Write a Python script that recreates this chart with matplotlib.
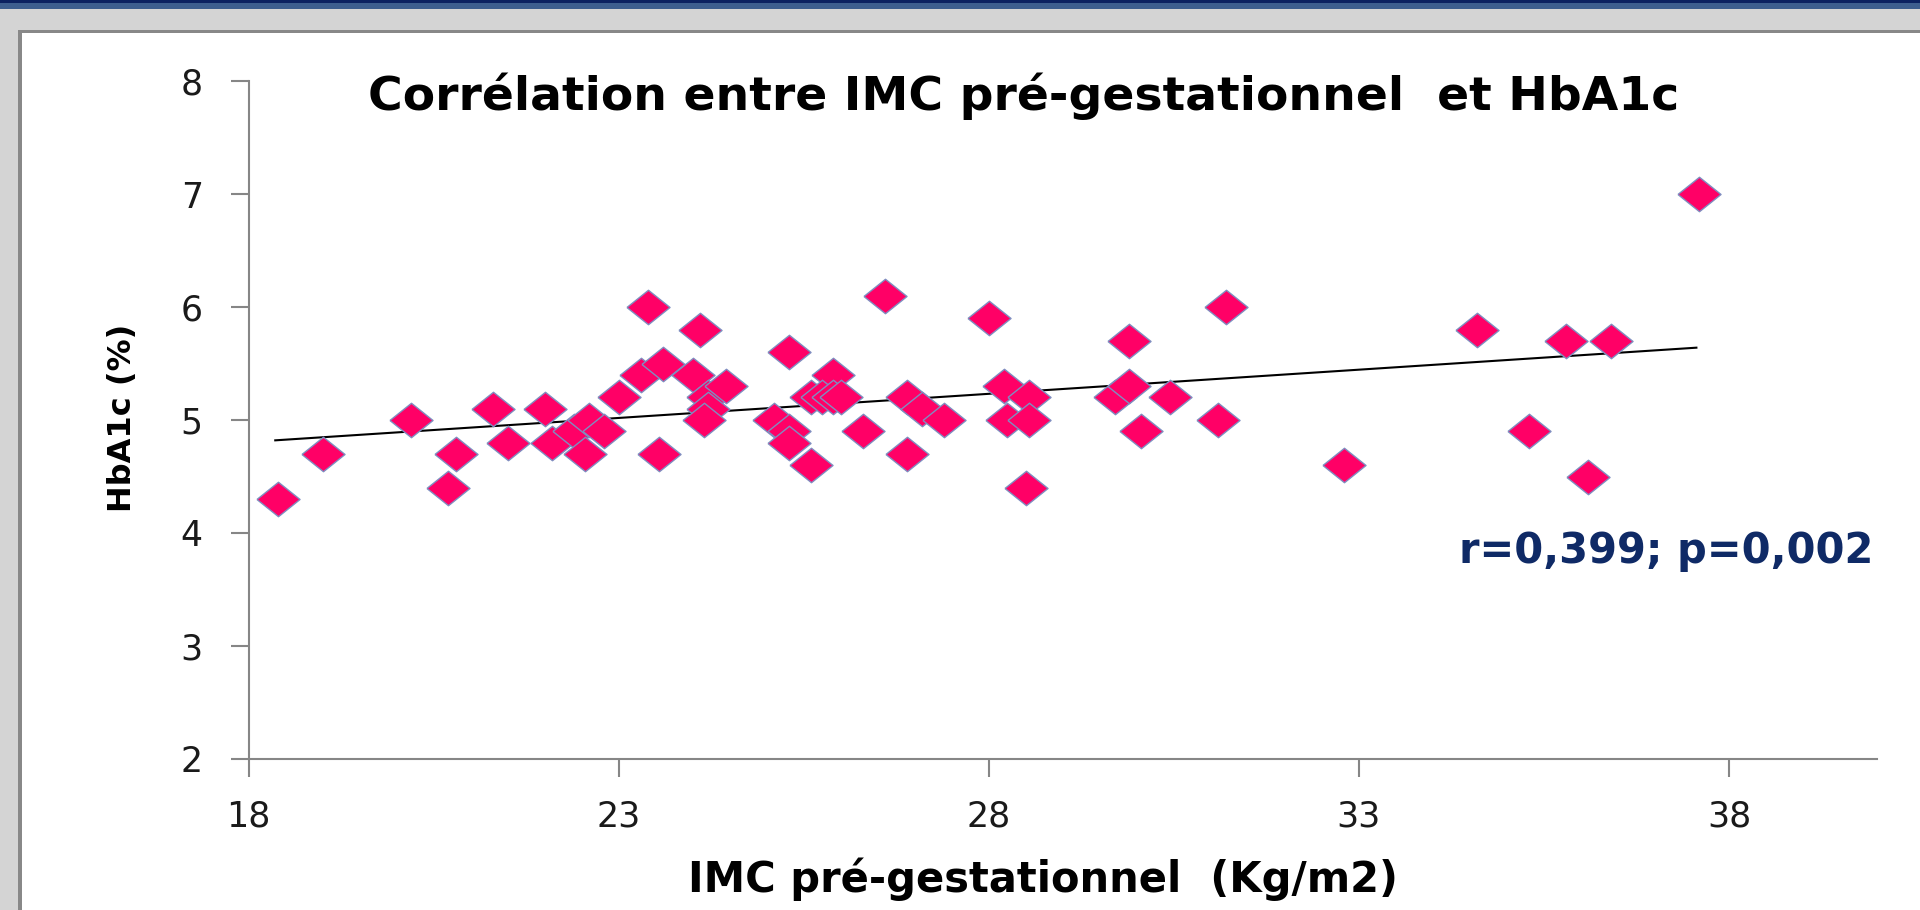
import matplotlib
matplotlib.use('Agg')
import matplotlib.pyplot as plt
from matplotlib.patches import Rectangle

plt.rcParams['font.family'] = ['DejaVu Sans']

# données
imc = [18.4, 19.0, 20.2, 20.7, 20.8, 21.3, 21.5, 22.0, 22.1, 22.4,
       22.55, 22.6, 22.8, 23.0, 23.3, 23.4, 23.55, 23.6, 24.0, 24.1,
       24.2, 24.2, 24.15, 24.45, 25.1, 25.3, 25.3, 25.3, 25.6, 25.9,
       25.6, 25.75, 25.9, 26.0, 26.3, 26.6, 26.9, 26.9, 27.1, 27.4,
       28.0, 28.2, 28.25, 28.55, 28.55, 28.5, 29.7, 29.9, 29.9, 30.05,
       30.45, 31.1, 31.2, 32.8, 34.6, 35.3, 35.8, 36.1, 36.4, 37.6]
hba1c = [4.3, 4.7, 5.0, 4.4, 4.7, 5.1, 4.8, 5.1, 4.8, 4.9,
         4.7, 5.0, 4.9, 5.2, 5.4, 6.0, 4.7, 5.5, 5.4, 5.8,
         5.2, 5.1, 5.0, 5.3, 5.0, 4.9, 4.8, 5.6, 4.6, 5.4,
         5.2, 5.2, 5.2, 5.2, 4.9, 6.1, 4.7, 5.2, 5.1, 5.0,
         5.9, 5.3, 5.0, 5.2, 5.0, 4.4, 5.2, 5.7, 5.3, 4.9,
         5.2, 5.0, 6.0, 4.6, 5.8, 4.9, 5.7, 4.5, 5.7, 7.0]

# droite de tendance (extrémités)
trend_x = [18.36, 37.56]
trend_y = [4.82, 5.64]

x_ticks = [18, 23, 28, 33, 38]
y_ticks = [2, 3, 4, 5, 6, 7, 8]

W, H = 1920, 910
fig = plt.figure(figsize=(W / 100, H / 100), dpi=100)
fig.patch.set_facecolor('white')


def px_rect(x, y, w, h, color):
    # rectangle en pixels (origine en haut à gauche)
    fig.add_artist(Rectangle((x / W, 1 - (y + h) / H), w / W, h / H,
                             transform=fig.transFigure, facecolor=color,
                             edgecolor='none', zorder=0))


# cadre façon diapositive
px_rect(0, 0, W, 30, '#d4d4d4')
px_rect(0, 0, 18, H, '#d4d4d4')
px_rect(0, 0, W, 3, '#0b2160')
px_rect(0, 3, W, 6, '#3d5e8e')
px_rect(18, 30, W - 18, 3, '#888888')
px_rect(18, 30, 4, H - 30, '#888888')

ax = fig.add_axes([248.6 / W, 1 - 759 / H, (1877 - 248.6) / W, (759 - 81) / H])
ax.set_facecolor('none')

# losange un peu plus large que haut (image étirée)
losange = [(-1.25, 0), (0, 1), (1.25, 0), (0, -1), (-1.25, 0)]

ax.plot(trend_x, trend_y, color='black', linewidth=1.5, zorder=2)
ax.scatter(imc, hba1c, marker=losange, s=31 ** 2, facecolor='#ff0066',
           edgecolor='#7f8ec0', linewidth=1.0, zorder=3)

ax.set_xlim(18, 40)
ax.set_ylim(2, 8)
ax.set_xticks(x_ticks)
ax.set_yticks(y_ticks)
for side in ['top', 'right']:
    ax.spines[side].set_visible(False)
for side in ['left', 'bottom']:
    ax.spines[side].set_color('#868686')
    ax.spines[side].set_linewidth(1.5)
ax.tick_params(axis='both', direction='out', length=13, width=1.5,
               color='#868686', labelsize=25, labelcolor='#1a1a1a')
ax.tick_params(axis='x', pad=16)
ax.tick_params(axis='y', pad=20)

fig.text(0.533, 1 - 96 / H, 'Corrélation entre IMC pré-gestationnel  et HbA1c',
         ha='center', va='center', fontsize=34, fontweight='bold', color='black')
fig.text(0.543, 1 - 879 / H, 'IMC pré-gestationnel  (Kg/m2)',
         ha='center', va='center', fontsize=30, fontweight='bold', color='black')
fig.text(123 / W, 1 - 418 / H, 'HbA1c (%)', rotation=90,
         ha='center', va='center', fontsize=23, fontweight='bold', color='black')
fig.text(1873 / W, 1 - 551 / H, 'r=0,399; p=0,002',
         ha='right', va='center', fontsize=30, fontweight='bold', color='#0f2a66')

fig.savefig('out.png', dpi=100)
